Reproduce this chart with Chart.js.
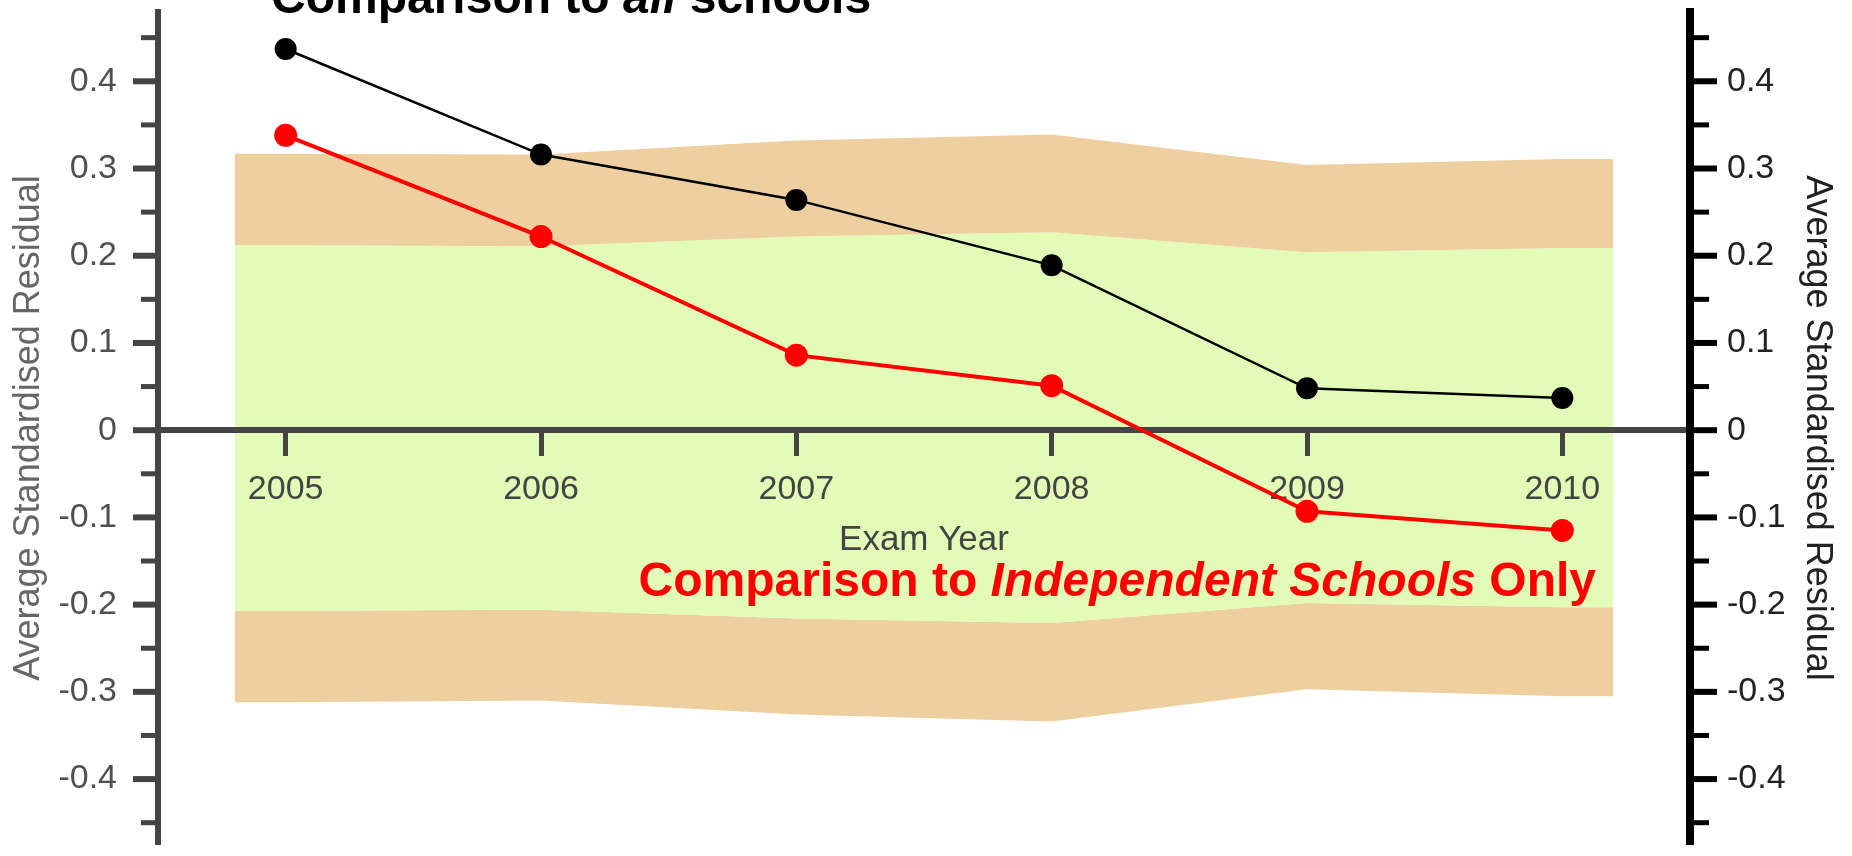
<!DOCTYPE html>
<html>
<head>
<meta charset="utf-8">
<title>Average Standardised Residual by Exam Year</title>
<script src="https://cdn.jsdelivr.net/npm/chart.js@4.4.1/dist/chart.umd.min.js"></script>
<style>
  html, body { margin: 0; padding: 0; background: #fff; overflow: hidden; }
  #wrap { width: 1852px; height: 856px; }
</style>
</head>
<body>
<div id="wrap"><canvas id="residChart" width="1852" height="856"></canvas></div>
<script>
// exam years on the x axis
const years = [2005, 2006, 2007, 2008, 2009, 2010];
const yearLabels = ['2005', '2006', '2007', '2008', '2009', '2010'];

// average standardised residual
const allSchools = [0.437, 0.316, 0.264, 0.189, 0.048, 0.037];
const independentOnly = [0.338, 0.222, 0.086, 0.051, -0.093, -0.115];

// shaded confidence bands (edges run a little past first/last year)
const bandX = [2004.8, 2005, 2006, 2007, 2008, 2009, 2010, 2010.2];
const outerUpper = [0.317, 0.317, 0.316, 0.332, 0.339, 0.304, 0.311, 0.311];
const innerUpper = [0.212, 0.212, 0.211, 0.222, 0.227, 0.204, 0.209, 0.209];
const innerLower = [-0.207, -0.207, -0.206, -0.216, -0.221, -0.198, -0.203, -0.203];
const outerLower = [-0.312, -0.312, -0.310, -0.326, -0.334, -0.297, -0.305, -0.305];

// y axis ticks (labels only on the tenths)
const yTicks = [-0.45, -0.4, -0.35, -0.3, -0.25, -0.2, -0.15, -0.1, -0.05, 0,
                0.05, 0.1, 0.15, 0.2, 0.25, 0.3, 0.35, 0.4, 0.45];

const FONT = '"Liberation Sans", Arial, sans-serif';
Chart.defaults.font.family = FONT;

function pts(xs, ys){
  return xs.map(function(x, i){ return {x: x, y: ys[i]}; });
}
function isMajor(v){
  return Math.abs(v * 10 - Math.round(v * 10)) < 1e-6;
}
function yLabel(v){
  if(!isMajor(v)) return '';
  return String(Math.round(v * 10) / 10);
}

// short minor ticks / long major ticks on both y axes
const yAxisTicks = {
  id: 'yAxisTicks',
  afterDraw(chart){
    const ctx = chart.ctx;
    ['y', 'y2'].forEach(function(id){
      const s = chart.scales[id];
      const right = id === 'y2';
      const x0 = right ? s.left : s.right;
      ctx.save();
      ctx.strokeStyle = right ? '#000' : '#444';
      s.ticks.forEach(function(t){
        const major = isMajor(t.value);
        const len = major ? (right ? 27 : 25) : (right ? 19 : 17);
        const py = s.getPixelForValue(t.value);
        ctx.lineWidth = major ? 6 : 5;
        ctx.beginPath();
        ctx.moveTo(x0, py);
        ctx.lineTo(right ? x0 + len : x0 - len, py);
        ctx.stroke();
      });
      ctx.restore();
    });
  }
};

// the two bold headings, with italic words in them
function drawRich(ctx, parts, x, y, color, align){
  const fonts = parts.map(function(p){ return (p[1] ? 'italic ' : '') + 'bold 48px ' + FONT; });
  let total = 0;
  const widths = parts.map(function(p, i){
    ctx.font = fonts[i];
    const w = ctx.measureText(p[0]).width;
    total += w;
    return w;
  });
  let cx = align === 'right' ? x - total : x;
  ctx.fillStyle = color;
  ctx.textBaseline = 'alphabetic';
  ctx.textAlign = 'left';
  parts.forEach(function(p, i){
    ctx.font = fonts[i];
    ctx.fillText(p[0], cx, y);
    cx += widths[i];
  });
}
const headings = {
  id: 'headings',
  afterDraw(chart){
    const ctx = chart.ctx;
    ctx.save();
    drawRich(ctx, [['Comparison to ', false], ['all', true], [' schools', false]], 271, 13, '#000', 'left');
    drawRich(ctx, [['Comparison to ', false], ['Independent Schools', true], [' Only', false]], 1596, 596, '#ff0000', 'right');
    ctx.restore();
  }
};

const ctx = document.getElementById('residChart');

const data = {
  datasets: [
    {
      label: 'Independent Schools Only',
      data: pts(years, independentOnly),
      borderColor: '#ff0000',
      backgroundColor: '#ff0000',
      borderWidth: 4,
      pointRadius: 11.5,
      pointBorderWidth: 0,
      tension: 0,
      fill: false
    },
    {
      label: 'All schools',
      data: pts(years, allSchools),
      borderColor: '#000000',
      backgroundColor: '#000000',
      borderWidth: 2.5,
      pointRadius: 11,
      pointBorderWidth: 0,
      tension: 0,
      fill: false
    },
    {
      label: 'outer upper',
      data: pts(bandX, outerUpper),
      borderColor: 'rgba(0,0,0,0)',
      borderWidth: 0,
      pointRadius: 0,
      backgroundColor: '#edcfa0',
      fill: '+1'
    },
    {
      label: 'inner upper',
      data: pts(bandX, innerUpper),
      borderColor: 'rgba(0,0,0,0)',
      borderWidth: 0,
      pointRadius: 0,
      backgroundColor: '#e2fcb8',
      fill: '+1'
    },
    {
      label: 'inner lower',
      data: pts(bandX, innerLower),
      borderColor: 'rgba(0,0,0,0)',
      borderWidth: 0,
      pointRadius: 0,
      backgroundColor: '#edcfa0',
      fill: '+1'
    },
    {
      label: 'outer lower',
      data: pts(bandX, outerLower),
      borderColor: 'rgba(0,0,0,0)',
      borderWidth: 0,
      pointRadius: 0,
      fill: false
    }
  ]
};

const option = {
  responsive: false,
  animation: false,
  layout: { padding: { top: 8, bottom: 0, left: 0, right: 0 } },
  plugins: {
    legend: { display: false },
    tooltip: { enabled: false },
    filler: { drawTime: 'beforeDraw' }
  },
  scales: {
    x: {
      type: 'linear',
      min: 2004.5,
      max: 2010.5,
      position: { y: 0 },
      afterBuildTicks: function(s){ s.ticks = years.map(function(v){ return {value: v}; }); },
      afterFit: function(s){ s.paddingLeft = 0; s.paddingRight = 0; },
      grid: { drawOnChartArea: false, drawTicks: true, tickLength: 23, tickWidth: 5, tickColor: '#444' },
      border: { display: true, color: '#444', width: 6 },
      ticks: {
        autoSkip: false, maxRotation: 0, minRotation: 0, padding: 16,
        color: '#444', font: { size: 34 },
        callback: function(v){ return yearLabels[years.indexOf(v)]; }
      },
      title: { display: true, text: 'Exam Year', color: '#444', font: { size: 35 }, padding: { top: -7, bottom: 0 } }
    },
    y: {
      type: 'linear',
      position: 'left',
      min: -0.475,
      max: 0.48,
      afterBuildTicks: function(s){ s.ticks = yTicks.map(function(v){ return {value: v}; }); },
      afterFit: function(s){ s.width = 158; s.paddingTop = 0; s.paddingBottom = 0; },
      grid: { drawOnChartArea: false, drawTicks: false },
      border: { display: true, color: '#444', width: 6 },
      ticks: { autoSkip: false, padding: 41, color: '#505050', font: { size: 34 }, callback: yLabel },
      title: { display: true, text: 'Average Standardised Residual', color: '#666', font: { size: 36 }, padding: { top: 7, bottom: 0 } }
    },
    y2: {
      type: 'linear',
      position: 'right',
      min: -0.475,
      max: 0.48,
      afterBuildTicks: function(s){ s.ticks = yTicks.map(function(v){ return {value: v}; }); },
      afterFit: function(s){ s.width = 162; s.paddingTop = 0; s.paddingBottom = 0; },
      grid: { drawOnChartArea: false, drawTicks: false },
      border: { display: true, color: '#000', width: 8 },
      ticks: { autoSkip: false, padding: 37, color: '#222', font: { size: 34 }, callback: yLabel },
      title: { display: true, text: 'Average Standardised Residual', color: '#222', font: { size: 36 }, padding: { top: 13, bottom: 0 } }
    }
  }
};

const config = {
  type: 'line',
  data: data,
  options: option,
  plugins: [yAxisTicks, headings]
};
const residChart = new Chart(ctx, config);
</script>
</body>
</html>
